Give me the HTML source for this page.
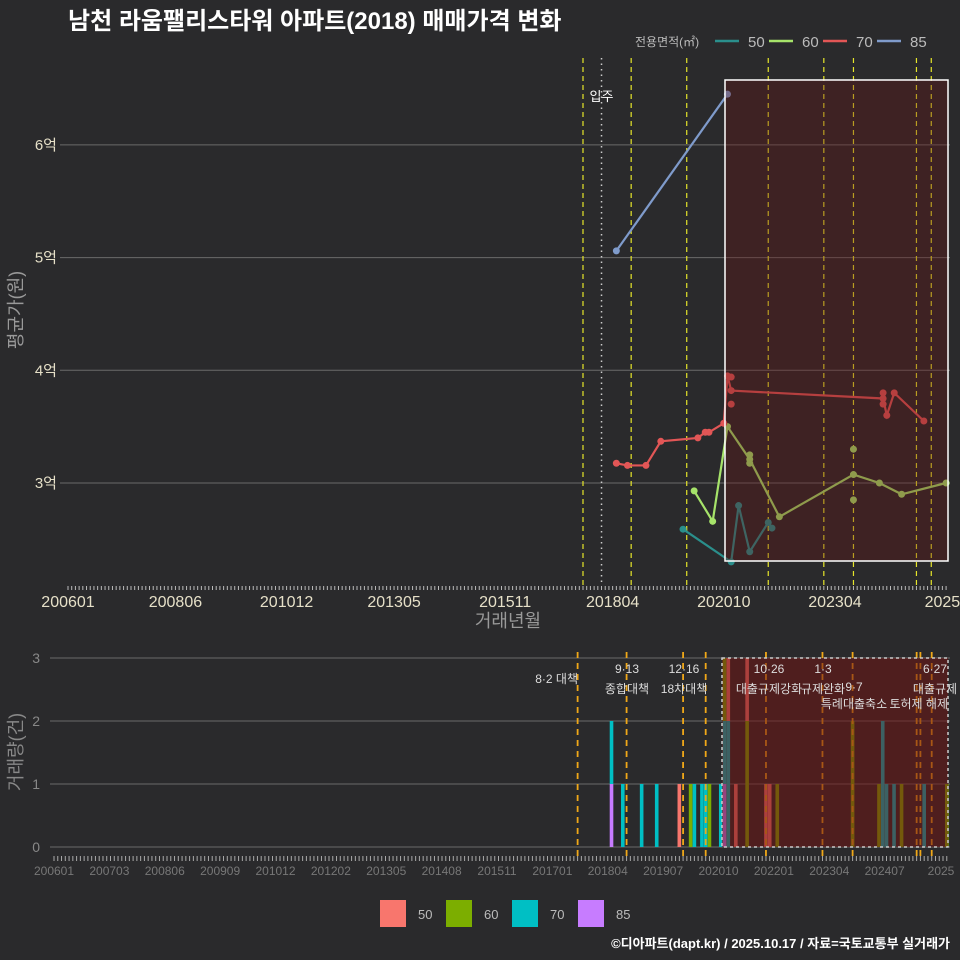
<!DOCTYPE html>
<html><head><meta charset="utf-8"><style>
html,body{margin:0;padding:0;background:#2a2a2c;}
svg{display:block;font-family:"Liberation Sans","Noto Sans CJK KR",sans-serif;}
</style></head><body>
<svg id="c" width="960" height="960" viewBox="0 0 960 960">
<defs><clipPath id="botClip"><rect x="0" y="640" width="960" height="240"/></clipPath></defs>
<rect width="960" height="960" fill="#2a2a2c"/>
<text x="68" y="29" fill="#fff" font-size="24" font-weight="bold">남천 라움팰리스타워 아파트(2018) 매매가격 변화</text>
<text x="950" y="948" fill="#fff" font-size="13" font-weight="bold" text-anchor="end">©디아파트(dapt.kr) / 2025.10.17 / 자료=국토교통부 실거래가</text>
<g id="topPanel"></g>
<g id="botPanel" clip-path="url(#botClip)"></g>
<g id="legPanel"></g>
</svg>
<script>
// ---- data ----
const xTickLabels=["200601","200806","201012","201305","201511","201804","202010","202304","2025"];
const xTickMonths=[0,29,59,88,118,147,177,207,236];
const yTickValues=[3,4,5,6];
const yTickLabels=["3억","4억","5억","6억"];
const series=["50","60","70","85"];
const line50M=[166,179,181,184,189,190];
const line50V=[2.59,2.30,2.80,2.39,2.65,2.60];
const line60M=[169,174,178,184,192,212,219,225,237];
const line60V=[2.93,2.66,3.50,3.21,2.70,3.075,3.00,2.90,3.00];
const line70M=[148,151,156,160,170,172,173,177,178,179,220,221,223,231];
const line70V=[3.175,3.156,3.156,3.37,3.40,3.45,3.45,3.53,3.95,3.82,3.75,3.60,3.80,3.55];
const line85M=[148,178];
const line85V=[5.06,6.45];
const dot60M=[184,184,212,212];
const dot60V=[3.25,3.175,3.30,2.85];
const dot70M=[179,179,220,220];
const dot70V=[3.94,3.70,3.80,3.70];
const policyM=[139,152,167,189,204,212,229,233];
const bottomPolicyM=[139,152,167,173,189,204,212,229,230,233];
const moveInM=144;
const barMonths=[148,151,156,160,166,169,170,172,173,174,177,178,179,181,184,189,190,192,212,219,220,221,223,225,231,237];
const bar50=[0,0,0,0,1,0,0,0,0,0,0,0,1,1,1,1,1,0,0,0,0,0,0,0,0,0];
const bar60=[0,0,0,0,0,1,0,0,0,1,0,1,0,0,2,0,0,1,2,1,0,0,0,1,0,1];
const bar70=[1,1,1,1,0,0,1,1,1,0,1,1,2,0,0,0,0,0,0,0,2,1,1,0,1,0];
const bar85=[1,0,0,0,0,0,0,0,0,0,0,1,0,0,0,0,0,0,0,0,0,0,0,0,0,0];
const volTicks=[0,1,2,3];
const botTickLabels=["200601","200703","200806","200909","201012","201202","201305","201408","201511","201701","201804","201907","202010","202201","202304","202407","2025"];
const annotations=[["8·2 대책","",578,"end"],["9·13","종합대책",627,"middle"],["12·16","18차대책",684,"middle"],["10·26","대출규제강화",769,"middle"],["1·3","규제완화",823,"middle"],["6·27","대출규제",935,"middle"]];

const NS="http://www.w3.org/2000/svg";
function el(p,t,a){const e=document.createElementNS(NS,t);for(const k in a)e.setAttribute(k,a[k]);p.appendChild(e);return e;}
const tx=m=>68+m*3.705, ty=v=>483-(v-3)*112.7;
const bx=m=>54+m*3.767, by=v=>847-v*63;
const topG=document.getElementById('topPanel'), botG=document.getElementById('botPanel'), legG=document.getElementById('legPanel');
const lineCol={"50":"#2a8f8c","60":"#a6e36a","70":"#e25656","85":"#7f9bcb"};
const barCol={"50":"#f8766d","60":"#7cae00","70":"#00bfc4","85":"#c77cff"};

yTickValues.forEach((v,i)=>{
 let g=el(topG,'line',{x1:60,x2:950,y1:ty(v),y2:ty(v),stroke:'#6a6a6a','stroke-width':1});
 
 let t=el(topG,'text',{x:57,y:ty(v)+5,fill:'#e6e0c8','font-size':15,'text-anchor':'end'});t.textContent=yTickLabels[i];
 
});
for(let m=0;m<=237;m++){let k=el(topG,'line',{x1:tx(m),x2:tx(m),y1:586,y2:590,stroke:'#bbb','stroke-width':1});}
xTickMonths.forEach((m,i)=>{let t=el(topG,'text',{x:tx(m),y:607,fill:'#e6e0c8','font-size':16,'text-anchor':'middle'});t.textContent=xTickLabels[i];});
policyM.forEach(m=>{let l=el(topG,'line',{x1:tx(m),x2:tx(m),y1:58,y2:585,stroke:'#e6e62a','stroke-width':1.2,'stroke-dasharray':'5,4'});});
{let l=el(topG,'line',{x1:tx(moveInM),x2:tx(moveInM),y1:58,y2:585,stroke:'#ccc','stroke-width':1.5,'stroke-dasharray':'1.5,4'});
 let t=el(topG,'text',{x:tx(moveInM),y:101,fill:'#fff','font-size':13,'text-anchor':'middle'});t.textContent='입주';}
const lines={"50":[line50M,line50V],"60":[line60M,line60V],"70":[line70M,line70V],"85":[line85M,line85V]};
series.forEach(s=>{const [M,V]=lines[s];
 let p=el(topG,'polyline',{points:M.map((m,i)=>tx(m)+','+ty(V[i])).join(' '),fill:'none',stroke:lineCol[s],'stroke-width':2.2});
 
 M.forEach((m,i)=>{let c=el(topG,'circle',{cx:tx(m),cy:ty(V[i]),r:3.5,fill:lineCol[s]});});
});
[["60",dot60M,dot60V],["70",dot70M,dot70V]].forEach(([s,M,V])=>M.forEach((m,i)=>{let c=el(topG,'circle',{cx:tx(m),cy:ty(V[i]),r:3.5,fill:lineCol[s]});}));
{let r=el(topG,'rect',{x:725,y:80,width:223,height:481,fill:'rgba(100,20,20,0.35)',stroke:'#fff','stroke-width':1.5});}
{let t=el(topG,'text',{x:508,y:627,fill:'#999','font-size':18,'text-anchor':'middle'});t.textContent='거래년월';
 t=el(topG,'text',{x:0,y:0,fill:'#999','font-size':18,'text-anchor':'middle',transform:'translate(22,310) rotate(-90)'});t.textContent='평균가(원)';}
{let t=el(topG,'text',{x:635,y:46,fill:'#bbb','font-size':12});t.textContent='전용면적(㎡)';
 series.forEach((s,i)=>{const x0=715+i*54;
  let l=el(topG,'line',{x1:x0,x2:x0+24,y1:41,y2:41,stroke:lineCol[s],'stroke-width':2.5});
  let t=el(topG,'text',{x:x0+33,y:47,fill:'#bbb','font-size':15});t.textContent=s;});}

volTicks.forEach(v=>{let g=el(botG,'line',{x1:50,x2:950,y1:by(v),y2:by(v),stroke:'#6a6a6a','stroke-width':1});
 let t=el(botG,'text',{x:40,y:by(v)+5,fill:'#888','font-size':14,'text-anchor':'end'});t.textContent=v;});
for(let m=0;m<=237;m++){let k=el(botG,'line',{x1:bx(m),x2:bx(m),y1:856,y2:861,stroke:'#aaa','stroke-width':1});}
botTickLabels.forEach((lab,i)=>{let m=i<16?i*14.7:236;let t=el(botG,'text',{x:bx(m)-(i<16?0:2),y:875,fill:'#777','font-size':12,'text-anchor':'middle'});t.textContent=lab;});
barMonths.forEach((m,i)=>{let base=0;[["85",bar85],["70",bar70],["60",bar60],["50",bar50]].forEach(([s,A])=>{const v=A[i];if(!v)return;
 let r=el(botG,'rect',{x:bx(m)-1.8,y:by(base+v),width:3.6,height:by(base)-by(base+v),fill:barCol[s]});base+=v;});});
bottomPolicyM.forEach(m=>{let l=el(botG,'line',{x1:bx(m),x2:bx(m),y1:652,y2:858,stroke:'#f0a818','stroke-width':1.8,'stroke-dasharray':'6,5'});});
{let r=el(botG,'rect',{x:722,y:658,width:226,height:189,fill:'rgba(110,20,20,0.55)',stroke:'#ccc','stroke-width':1.5,'stroke-dasharray':'3,3'});}
annotations.forEach(([a,b,x,anc])=>{let t=el(botG,'text',{x:x,y:b?673:683,fill:'#ddd','font-size':12,'text-anchor':anc});t.textContent=a;
 if(b){t=el(botG,'text',{x:x,y:693,fill:'#ddd','font-size':12,'text-anchor':anc});t.textContent=b;}});
{let t=el(botG,'text',{x:854,y:691,fill:'#ddd','font-size':12,'text-anchor':'middle'});t.textContent='9·7';
 t=el(botG,'text',{x:854,y:708,fill:'#ddd','font-size':12,'text-anchor':'middle'});t.textContent='특례대출축소';
 t=el(botG,'text',{x:948,y:708,fill:'#ddd','font-size':12,'text-anchor':'end'});t.textContent='토허제 해제';
 t=el(botG,'text',{x:0,y:0,fill:'#888','font-size':18,'text-anchor':'middle',transform:'translate(22,752) rotate(-90)'});t.textContent='거래량(건)';}
series.forEach((s,i)=>{const x0=380+i*66;
 let r=el(legG,'rect',{x:x0,y:900,width:26,height:27,fill:barCol[s]});
 let t=el(legG,'text',{x:x0+38,y:919,fill:'#bbb','font-size':13});t.textContent=s;});
</script>
</body></html>
